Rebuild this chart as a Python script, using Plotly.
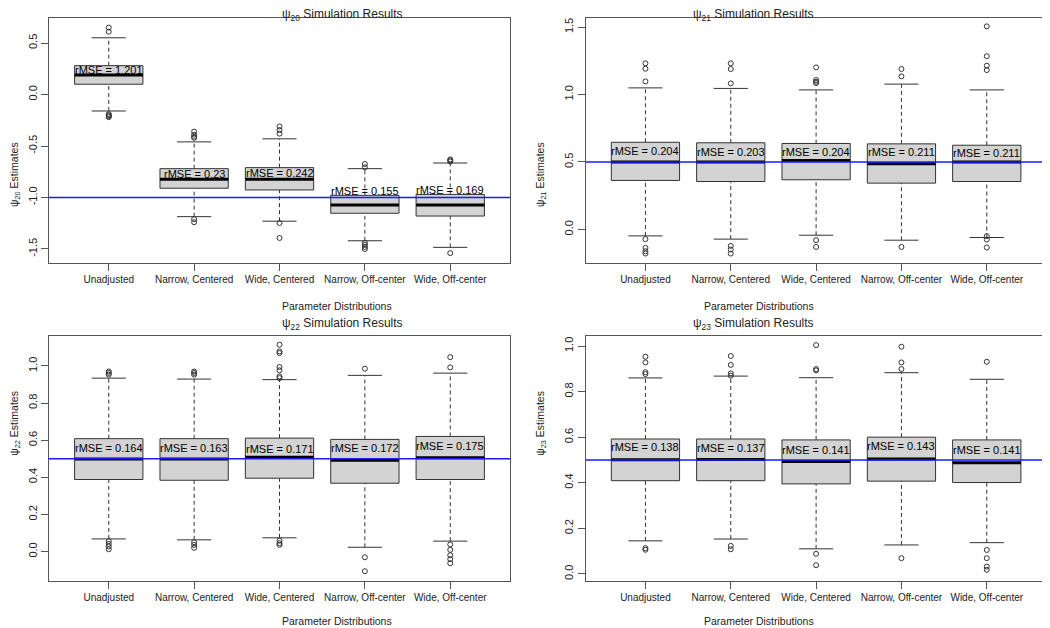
import plotly.graph_objects as go

# ---------------- data ----------------
categories = ["Unadjusted", "Narrow, Centered", "Wide, Centered",
              "Narrow, Off-center", "Wide, Off-center"]

psi_names = ["20", "21", "22", "23"]
truth = [-1.0, 0.5, 0.5, 0.5]

# box statistics per panel: lower whisker, Q1, median, Q3, upper whisker
p20_lo  = [-0.16, -1.186, -1.23, -1.42, -1.484]
p20_q1  = [0.10, -0.91, -0.927, -1.153, -1.18]
p20_med = [0.19, -0.823, -0.823, -1.073, -1.073]
p20_q3  = [0.28, -0.72, -0.71, -0.979, -0.97]
p20_hi  = [0.551, -0.46, -0.43, -0.72, -0.665]
p20_out = [[0.65, 0.61, -0.19, -0.20, -0.21, -0.22],
           [-0.36, -0.39, -0.41, -0.42, -1.21, -1.24],
           [-0.31, -0.345, -0.38, -1.247, -1.393],
           [-0.675, -0.707, -1.44, -1.46, -1.48, -1.50],
           [-0.63, -0.64, -0.65, -1.54]]
p20_rmse = ["1.201", "0.23", "0.242", "0.155", "0.169"]
p20_lab_y = [0.238, -0.772, -0.76, -0.934, -0.927]

p21_lo  = [-0.048, -0.072, -0.043, -0.08, -0.06]
p21_q1  = [0.363, 0.355, 0.368, 0.343, 0.355]
p21_med = [0.50, 0.50, 0.51, 0.487, 0.50]
p21_q3  = [0.646, 0.642, 0.637, 0.634, 0.624]
p21_hi  = [1.049, 1.045, 1.034, 1.077, 1.034]
p21_out = [[1.231, 1.191, 1.097, -0.072, -0.137, -0.162, -0.179],
           [1.231, 1.189, 1.082, -0.122, -0.149, -0.179],
           [1.201, 1.107, 1.094, 1.085, -0.08, -0.13],
           [1.189, 1.134, -0.13],
           [1.505, 1.284, 1.214, 1.181, -0.05, -0.075, -0.134]]
p21_rmse = ["0.204", "0.203", "0.204", "0.211", "0.211"]
p21_lab_y = [0.579, 0.577, 0.576, 0.575, 0.567]

p22_lo  = [0.068, 0.063, 0.074, 0.023, 0.056]
p22_q1  = [0.388, 0.384, 0.395, 0.368, 0.388]
p22_med = [0.498, 0.498, 0.508, 0.492, 0.505]
p22_q3  = [0.608, 0.608, 0.611, 0.604, 0.62]
p22_hi  = [0.934, 0.929, 0.926, 0.949, 0.961]
p22_out = [[0.970, 0.962, 0.953, 0.056, 0.041, 0.027, 0.012],
           [0.970, 0.962, 0.953, 0.050, 0.036, 0.020],
           [1.114, 1.078, 1.069, 0.994, 0.976, 0.943, 0.934, 0.059, 0.045, 0.036],
           [0.985, -0.031, -0.106],
           [1.047, 0.992, 0.038, 0.009, -0.02, -0.041, -0.063]]
p22_rmse = ["0.164", "0.163", "0.171", "0.172", "0.175"]
p22_lab_y = [0.557, 0.556, 0.554, 0.556, 0.566]

p23_lo  = [0.145, 0.153, 0.11, 0.127, 0.137]
p23_q1  = [0.409, 0.409, 0.395, 0.407, 0.401]
p23_med = [0.501, 0.502, 0.493, 0.504, 0.488]
p23_q3  = [0.592, 0.592, 0.588, 0.60, 0.588]
p23_hi  = [0.86, 0.868, 0.861, 0.883, 0.854]
p23_out = [[0.953, 0.928, 0.885, 0.877, 0.113, 0.106],
           [0.956, 0.917, 0.880, 0.870, 0.123, 0.108],
           [1.004, 0.899, 0.893, 0.088, 0.038],
           [0.997, 0.928, 0.899, 0.069],
           [0.931, 0.105, 0.069, 0.032, 0.018]]
p23_rmse = ["0.138", "0.137", "0.141", "0.143", "0.141"]
p23_lab_y = [0.556, 0.554, 0.544, 0.561, 0.544]

y_ranges = [[-1.636, 0.743], [-0.249, 1.567], [-0.156, 1.161], [-0.029, 1.044]]
y_ticks = [[-1.5, -1.0, -0.5, 0.0, 0.5],
           [0.0, 0.5, 1.0, 1.5],
           [0.0, 0.2, 0.4, 0.6, 0.8, 1.0],
           [0.0, 0.2, 0.4, 0.6, 0.8, 1.0]]

panels = [
    (p20_lo, p20_q1, p20_med, p20_q3, p20_hi, p20_out, p20_rmse, p20_lab_y),
    (p21_lo, p21_q1, p21_med, p21_q3, p21_hi, p21_out, p21_rmse, p21_lab_y),
    (p22_lo, p22_q1, p22_med, p22_q3, p22_hi, p22_out, p22_rmse, p22_lab_y),
    (p23_lo, p23_q1, p23_med, p23_q3, p23_hi, p23_out, p23_rmse, p23_lab_y),
]

# ---------------- layout constants ----------------
FONT = "Liberation Sans, Arial, sans-serif"
DARK = "#333333"
BOXW = 0.4     # half box width
CAPW = 0.2     # half staple width
X_RANGE = [0.3, 5.7]
positions = list(range(1, len(categories) + 1))

# the page body has an 8px margin: the figure is drawn 8px right/down
OFF = 8
W, H = 1050 - OFF, 628 - OFF


def px(v):
    return (v - OFF) / W


def py(v):
    return 1 - (v - OFF) / H


x_dom = [[px(49), px(510)], [px(585.7), px(1046.5)]]
y_dom = [[py(263), py(18)], [py(580.5), py(336)]]
title_y = [py(15), py(324)]
xtitle_y = [py(305.7), py(621)]
ytitle_x = [px(15), px(541)]

fig = go.Figure()
layout = dict(width=W, height=H, margin=dict(l=0, r=0, t=0, b=0),
              paper_bgcolor="white", plot_bgcolor="white",
              showlegend=False, font=dict(family=FONT, color="#222", size=11),
              annotations=[])

for i, (lo, q1, med, q3, hi, outs, rmse, lab_y) in enumerate(panels):
    col, row = i % 2, i // 2
    xa = "x" if i == 0 else f"x{i+1}"
    ya = "y" if i == 0 else f"y{i+1}"
    xkey = "xaxis" if i == 0 else f"xaxis{i+1}"
    ykey = "yaxis" if i == 0 else f"yaxis{i+1}"

    # whiskers (dashed)
    wx, wy = [], []
    for p, a, b, c, d in zip(positions, lo, q1, q3, hi):
        wx += [p, p, None, p, p, None]
        wy += [c, d, None, a, b, None]
    fig.add_trace(go.Scatter(x=wx, y=wy, mode="lines", xaxis=xa, yaxis=ya,
                             line=dict(color=DARK, width=1, dash="4px,3px"),
                             hoverinfo="skip"))
    # staples
    sx, sy = [], []
    for p, a, d in zip(positions, lo, hi):
        sx += [p - CAPW, p + CAPW, None, p - CAPW, p + CAPW, None]
        sy += [d, d, None, a, a, None]
    fig.add_trace(go.Scatter(x=sx, y=sy, mode="lines", xaxis=xa, yaxis=ya,
                             line=dict(color=DARK, width=1), hoverinfo="skip"))
    # boxes
    for p, b, c in zip(positions, q1, q3):
        fig.add_trace(go.Scatter(
            x=[p - BOXW, p + BOXW, p + BOXW, p - BOXW, p - BOXW],
            y=[b, b, c, c, b], mode="lines", fill="toself",
            fillcolor="#D3D3D3", line=dict(color=DARK, width=1),
            xaxis=xa, yaxis=ya, hoverinfo="skip"))
    # medians
    mx, my = [], []
    for p, m in zip(positions, med):
        mx += [p - BOXW, p + BOXW, None]
        my += [m, m, None]
    fig.add_trace(go.Scatter(x=mx, y=my, mode="lines", xaxis=xa, yaxis=ya,
                             line=dict(color="black", width=3), hoverinfo="skip"))
    # outliers
    ox, oy = [], []
    for p, o in zip(positions, outs):
        ox += [p] * len(o)
        oy += o
    fig.add_trace(go.Scatter(x=ox, y=oy, mode="markers", xaxis=xa, yaxis=ya,
                             marker=dict(symbol="circle-open", size=5,
                                         color=DARK, line=dict(width=1)),
                             hoverinfo="skip"))
    # true value line (on top)
    fig.add_trace(go.Scatter(x=X_RANGE, y=[truth[i], truth[i]], mode="lines",
                             xaxis=xa, yaxis=ya,
                             line=dict(color="#1a1aff", width=1.4),
                             hoverinfo="skip"))

    # rMSE labels
    for p, r, ly in zip(positions, rmse, lab_y):
        layout["annotations"].append(dict(
            x=p, y=ly, xref=xa, yref=ya, text=f"rMSE = {r}", showarrow=False,
            font=dict(family=FONT, size=11, color="black")))

    layout[xkey] = dict(domain=x_dom[col], anchor=ya, range=X_RANGE,
                        tickvals=positions, ticktext=categories, tickangle=0,
                        showline=True, mirror=True, linecolor="#555", linewidth=1,
                        ticks="outside", ticklen=7, tickcolor="#555",
                        showgrid=False, zeroline=False,
                        tickfont=dict(family=FONT, size=10, color="#222"))
    layout[ykey] = dict(domain=y_dom[row], anchor=xa, range=y_ranges[i],
                        tickvals=y_ticks[i],
                        ticktext=[f"{v:.1f}" for v in y_ticks[i]],
                        tickangle=-90,
                        showline=True, mirror=True, linecolor="#555", linewidth=1,
                        ticks="outside", ticklen=7, tickcolor="#555",
                        showgrid=False, zeroline=False,
                        tickfont=dict(family=FONT, size=11, color="#222"))

    cx = (x_dom[col][0] + x_dom[col][1]) / 2
    cy = (y_dom[row][0] + y_dom[row][1]) / 2
    layout["annotations"].append(dict(
        x=cx, y=title_y[row], xref="paper", yref="paper", showarrow=False,
        text=f"\u03c8<sub>{psi_names[i]}</sub> Simulation Results",
        font=dict(family=FONT, size=12, color="#222"), yanchor="middle"))
    layout["annotations"].append(dict(
        x=cx, y=xtitle_y[row], xref="paper", yref="paper", showarrow=False,
        text="Parameter Distributions",
        font=dict(family=FONT, size=10.5, color="#222"), yanchor="middle"))
    layout["annotations"].append(dict(
        x=ytitle_x[col], y=cy, xref="paper", yref="paper", showarrow=False,
        text=f"\u03c8<sub>{psi_names[i]}</sub> Estimates", textangle=-90,
        font=dict(family=FONT, size=10.5, color="#222"), xanchor="center"))

fig.update_layout(**layout)
fig.write_html("out.html")
